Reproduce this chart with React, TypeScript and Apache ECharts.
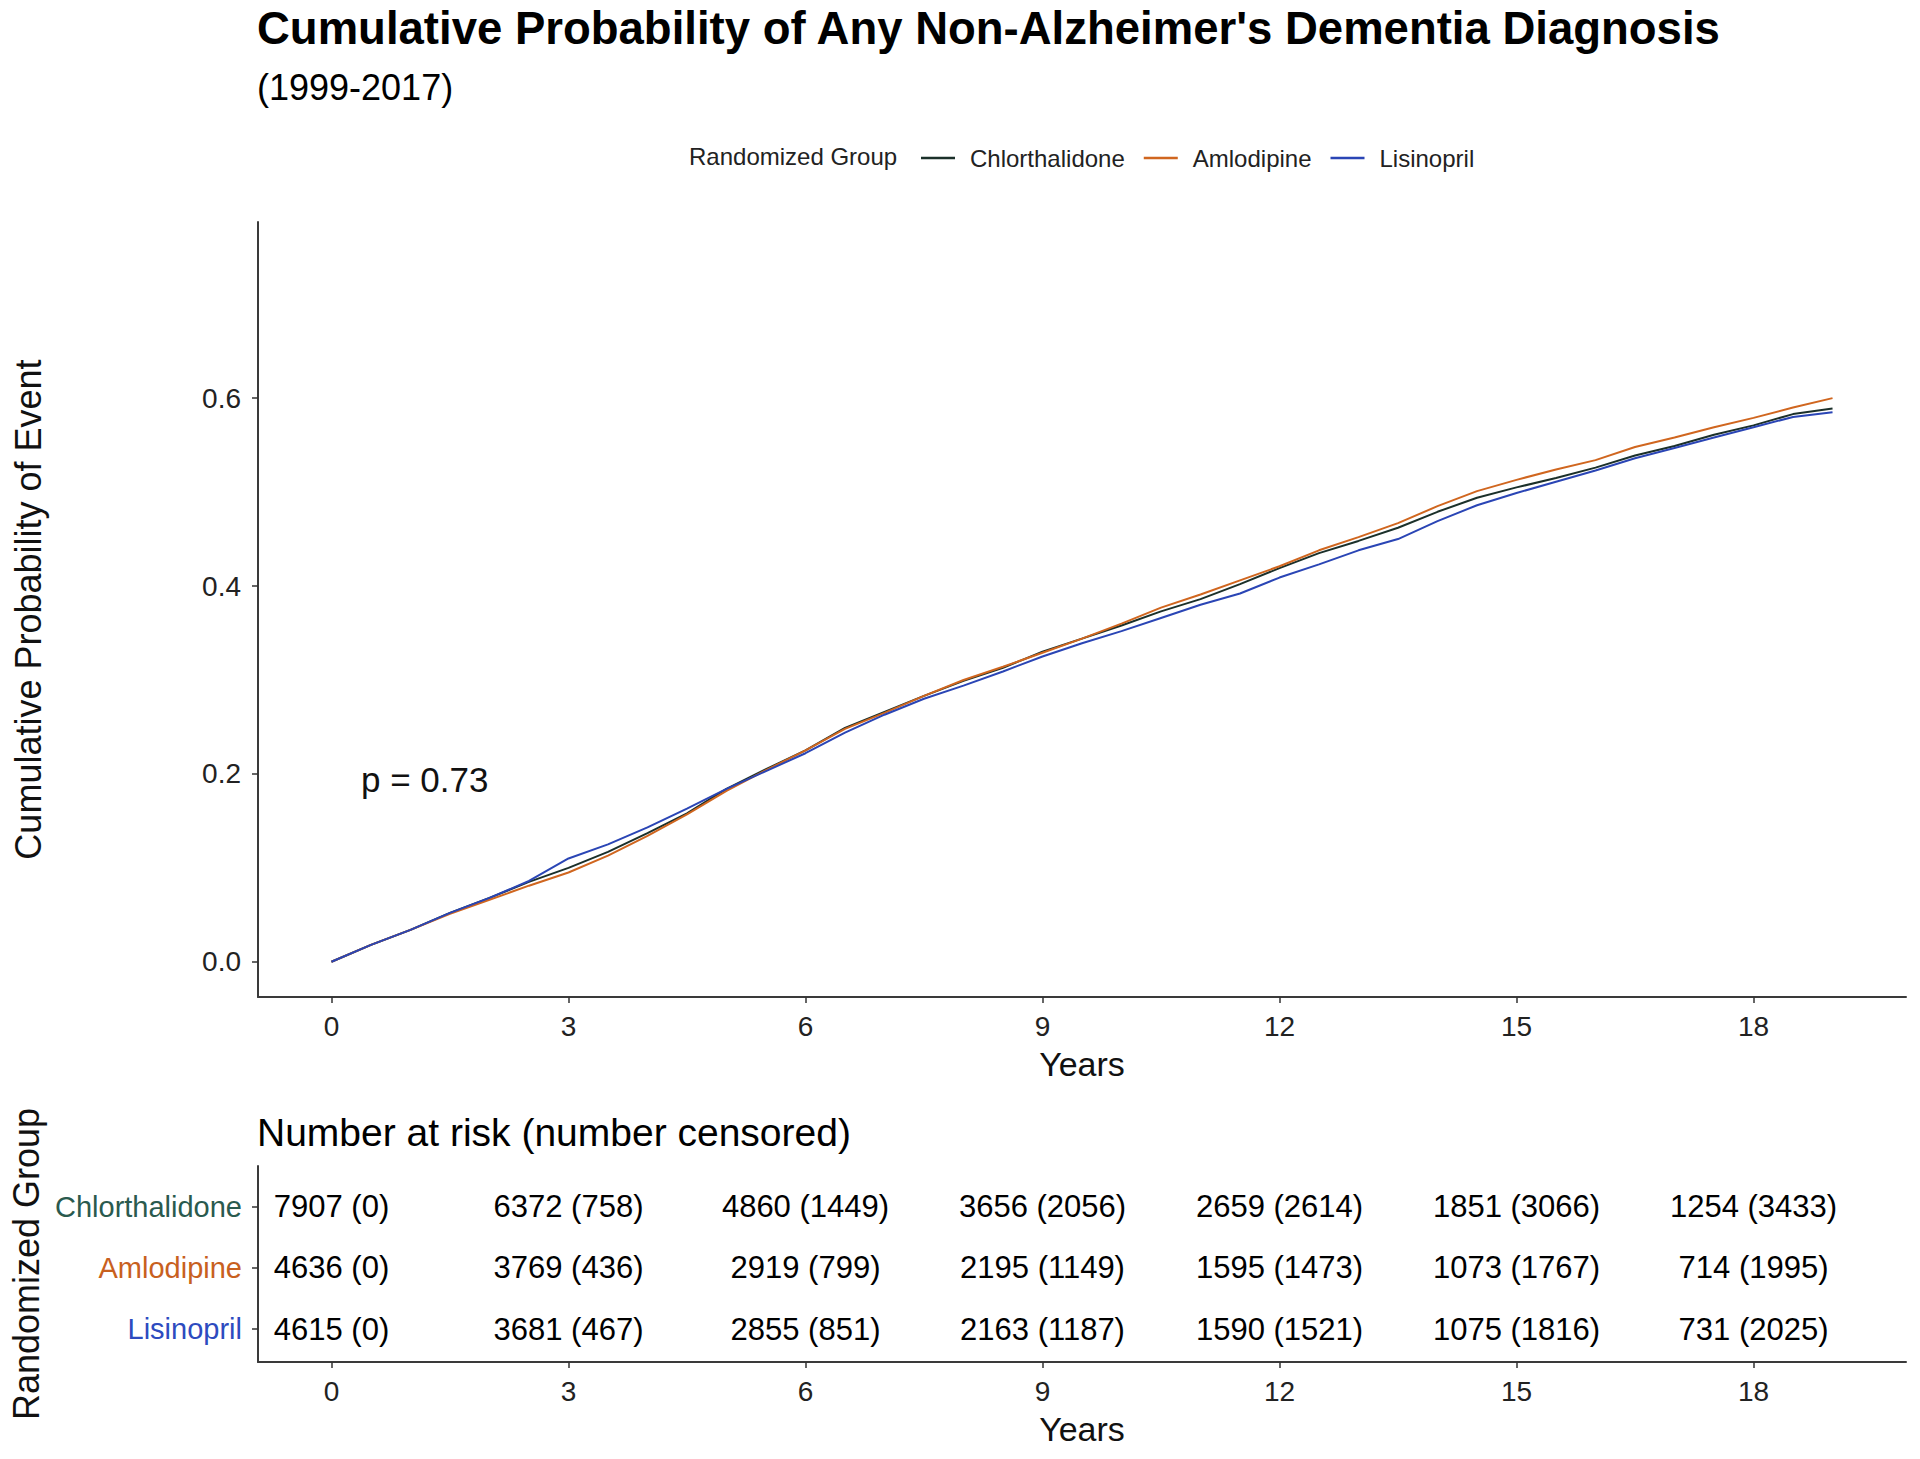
import React, { useEffect, useRef } from "react";
import * as echarts from "echarts";

const FONT = "'Liberation Sans', Arial, Helvetica, sans-serif";

// ---- Curve data ----
const groups = ["Chlorthalidone", "Amlodipine", "Lisinopril"];
const groupColors = ["#1B302A", "#D0661F", "#2A45B5"];

const years = [
  0, 0.5, 1, 1.5, 2, 2.5, 3, 3.5, 4, 4.5, 5, 5.5, 6, 6.5, 7, 7.5, 8, 8.5, 9, 9.5,
  10, 10.5, 11, 11.5, 12, 12.5, 13, 13.5, 14, 14.5, 15, 15.5, 16, 16.5, 17, 17.5,
  18, 18.5, 19,
];
const chlorthalidone = [
  0.0, 0.018, 0.034, 0.052, 0.068, 0.085, 0.1, 0.117, 0.137, 0.158, 0.184, 0.205,
  0.225, 0.249, 0.266, 0.283, 0.299, 0.313, 0.33, 0.344, 0.358, 0.373, 0.386, 0.402,
  0.419, 0.435, 0.448, 0.462, 0.479, 0.494, 0.505, 0.515, 0.526, 0.539, 0.549, 0.561,
  0.571, 0.583, 0.589,
];
const amlodipine = [
  0.0, 0.018, 0.034, 0.051, 0.066, 0.081, 0.095, 0.113, 0.134, 0.157, 0.182, 0.204,
  0.225, 0.248, 0.265, 0.283, 0.3, 0.314, 0.329, 0.344, 0.36, 0.377, 0.391, 0.406,
  0.421, 0.438, 0.452, 0.467, 0.485, 0.501, 0.513, 0.524, 0.534, 0.548, 0.558, 0.569,
  0.579, 0.59, 0.6,
];
const lisinopril = [
  0.0, 0.018, 0.034, 0.052, 0.068, 0.086, 0.11, 0.125, 0.143, 0.163, 0.184, 0.203,
  0.222, 0.244, 0.263, 0.28, 0.294, 0.309, 0.325, 0.339, 0.352, 0.366, 0.38, 0.392,
  0.409, 0.423, 0.438, 0.45, 0.469, 0.486, 0.499, 0.511, 0.523, 0.536, 0.547, 0.558,
  0.569, 0.58, 0.585,
];

// ---- Axis ticks ----
const yearTicks = [0, 3, 6, 9, 12, 15, 18];
const probTicks = [0, 0.2, 0.4, 0.6];

// ---- Risk table ----
const riskTimes = [0, 3, 6, 9, 12, 15, 18];
const chlorAtRisk = [7907, 6372, 4860, 3656, 2659, 1851, 1254];
const chlorCensored = [0, 758, 1449, 2056, 2614, 3066, 3433];
const amloAtRisk = [4636, 3769, 2919, 2195, 1595, 1073, 714];
const amloCensored = [0, 436, 799, 1149, 1473, 1767, 1995];
const lisiAtRisk = [4615, 3681, 2855, 2163, 1590, 1075, 731];
const lisiCensored = [0, 467, 851, 1187, 1521, 1816, 2025];
// table rows (bottom = 1)
const tableRows = [3, 2, 1];

const pValueText = "p = 0.73";

export default function App() {
  const ref = useRef<HTMLDivElement>(null);

  useEffect(() => {
    document.body.style.margin = "0";
    if (!ref.current) return;
    const chart = echarts.init(ref.current, undefined, { renderer: "svg" });

    const curves = [chlorthalidone, amlodipine, lisinopril];
    const atRisk = [chlorAtRisk, amloAtRisk, lisiAtRisk];
    const censored = [chlorCensored, amloCensored, lisiCensored];

    const lineSeries = groups.map((g, gi) => ({
      name: g,
      type: "line",
      xAxisIndex: 0,
      yAxisIndex: 0,
      symbol: "none",
      showSymbol: false,
      color: groupColors[gi],
      lineStyle: { width: 2, color: groupColors[gi] },
      data: years.map((t, i) => [t, curves[gi][i]]),
      z: 3 + gi,
    }));

    const tableSeries = groups.map((g, gi) => ({
      name: "risk-" + g,
      type: "scatter",
      xAxisIndex: 1,
      yAxisIndex: 1,
      symbolSize: 1,
      itemStyle: { color: "rgba(0,0,0,0)" },
      label: {
        show: true,
        position: "inside",
        formatter: (p: any) => p.value[2],
        fontSize: 31,
        fontFamily: FONT,
        color: "#000",
        opacity: 1,
      },
      data: riskTimes.map((t, i) => [
        t,
        tableRows[gi],
        `${atRisk[gi][i]} (${censored[gi][i]})`,
      ]),
    }));

    const axisCommonX = (gridIndex: number) => ({
      type: "value",
      gridIndex,
      min: -0.93,
      max: 19.93,
      name: "Years",
      nameLocation: "middle",
      nameGap: 50,
      nameTextStyle: { fontSize: 34, fontFamily: FONT, color: "#111" },
      axisLine: { show: true, onZero: false, lineStyle: { color: "#3a3a3a", width: 2 } },
      axisTick: {
        show: true,
        length: 6,
        customValues: yearTicks,
        lineStyle: { color: "#333", width: 1.5 },
      },
      axisLabel: {
        show: true,
        customValues: yearTicks,
        margin: 15,
        fontSize: 28,
        fontFamily: FONT,
        color: "#222",
      },
      splitLine: { show: false },
    });

    const rowLabelColors = ["#2A5A4E", "#C8601E", "#2D4BBF"];

    chart.setOption({
      animation: false,
      backgroundColor: "#ffffff",
      title: [
        {
          text: "Cumulative Probability of Any Non-Alzheimer's Dementia Diagnosis",
          left: 257,
          top: 5,
          padding: 0,
          textStyle: { fontSize: 45.5, fontWeight: "bold", fontFamily: FONT, color: "#000" },
        },
        {
          text: "(1999-2017)",
          left: 257,
          top: 69,
          padding: 0,
          textStyle: { fontSize: 36, fontWeight: "normal", fontFamily: FONT, color: "#000" },
        },
        {
          text: "Number at risk (number censored)",
          left: 257,
          top: 1113,
          padding: 0,
          textStyle: { fontSize: 39, fontWeight: "normal", fontFamily: FONT, color: "#000" },
        },
      ],
      legend: {
        data: groups,
        left: 916,
        top: 141,
        icon: "rect",
        itemWidth: 34,
        itemHeight: 2.5,
        itemGap: 19,
        textStyle: {
          fontSize: 24,
          fontFamily: FONT,
          color: "#222",
          padding: [0, 0, 0, 10],
        },
      },
      graphic: [
        {
          type: "text",
          x: 689,
          y: 156,
          style: {
            text: "Randomized Group",
            fontSize: 24,
            fontFamily: FONT,
            fill: "#222",
            verticalAlign: "middle",
          },
        },
        {
          type: "text",
          x: 361,
          y: 779,
          style: {
            text: pValueText,
            fontSize: 35,
            fontFamily: FONT,
            fill: "#111",
            verticalAlign: "middle",
          },
        },
      ],
      grid: [
        { left: 258, top: 222, width: 1648, height: 775 },
        { left: 258, top: 1166, width: 1648, height: 196 },
      ],
      xAxis: [axisCommonX(0), axisCommonX(1)],
      yAxis: [
        {
          type: "value",
          gridIndex: 0,
          min: -0.0375,
          max: 0.7875,
          name: "Cumulative Probability of Event",
          nameLocation: "middle",
          nameGap: 212,
          nameTextStyle: { fontSize: 36, fontFamily: FONT, color: "#111" },
          axisLine: { show: true, onZero: false, lineStyle: { color: "#3a3a3a", width: 2 } },
          axisTick: {
            show: true,
            length: 6,
            customValues: probTicks,
            lineStyle: { color: "#333", width: 1.5 },
          },
          axisLabel: {
            show: true,
            customValues: probTicks,
            margin: 17,
            fontSize: 28,
            fontFamily: FONT,
            color: "#222",
            formatter: (v: number) => v.toFixed(1),
          },
          splitLine: { show: false },
        },
        {
          type: "value",
          gridIndex: 1,
          min: 0.465,
          max: 3.665,
          name: "Randomized Group",
          nameLocation: "middle",
          nameGap: 212,
          nameTextStyle: { fontSize: 36, fontFamily: FONT, color: "#111" },
          axisLine: { show: true, onZero: false, lineStyle: { color: "#3a3a3a", width: 2 } },
          axisTick: {
            show: true,
            length: 6,
            customValues: tableRows,
            lineStyle: { color: "#333", width: 1.5 },
          },
          axisLabel: {
            show: true,
            customValues: tableRows,
            margin: 16,
            fontSize: 29,
            fontFamily: FONT,
            formatter: (v: number) => {
              const gi = tableRows.indexOf(v);
              return gi >= 0 ? `{g${gi}|${groups[gi]}}` : "";
            },
            rich: {
              g0: { color: rowLabelColors[0], fontSize: 29, fontFamily: FONT },
              g1: { color: rowLabelColors[1], fontSize: 29, fontFamily: FONT },
              g2: { color: rowLabelColors[2], fontSize: 29, fontFamily: FONT },
            },
          },
          splitLine: { show: false },
        },
      ],
      series: [...lineSeries, ...tableSeries],
    });

    return () => {
      chart.dispose();
    };
  }, []);

  return <div ref={ref} style={{ width: 1920, height: 1459 }} />;
}
